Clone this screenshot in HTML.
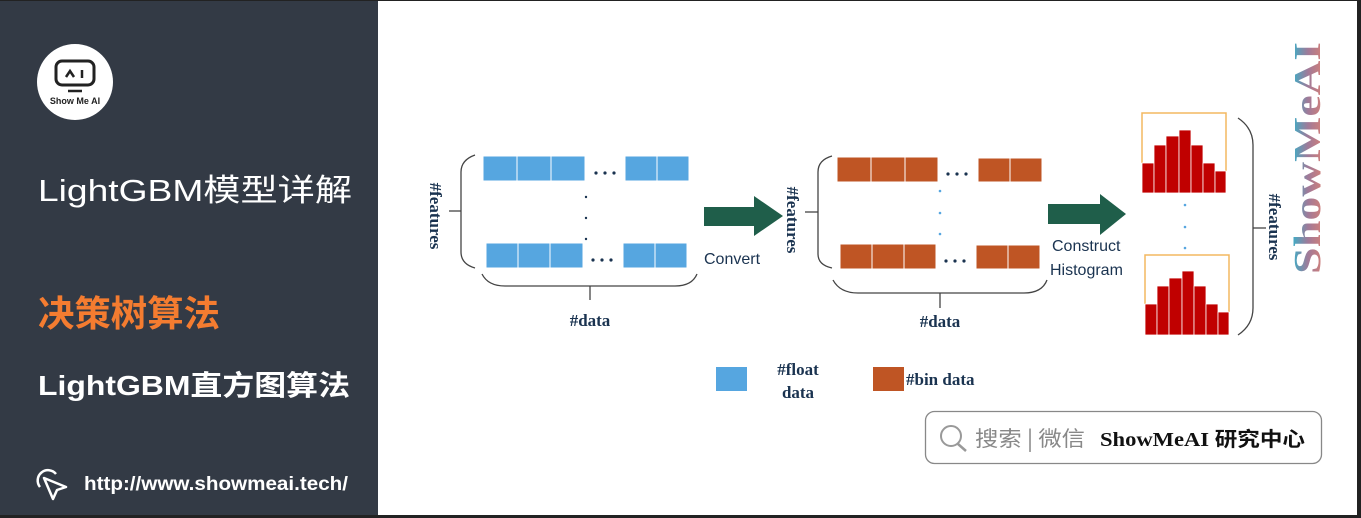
<!DOCTYPE html>
<html><head><meta charset="utf-8"><style>
body{margin:0;width:1361px;height:518px;overflow:hidden;background:#fff;font-family:"Liberation Sans","Noto Sans CJK SC",sans-serif;}
</style></head><body>
<svg width="1361" height="518" xmlns="http://www.w3.org/2000/svg" style="position:absolute;left:0;top:0">
<rect x="0" y="0" width="1361" height="518" fill="#fff"/>
<rect x="0" y="0" width="378" height="518" fill="#333a45"/>
<rect x="1357" y="0" width="4" height="518" fill="#222"/>
<rect x="0" y="515" width="1361" height="3" fill="#222"/>
<rect x="0" y="0" width="1361" height="1" fill="#222"/>
<!-- logo -->
<circle cx="75" cy="82" r="38" fill="#fff"/>
<rect x="56" y="61" width="38" height="24" rx="6" fill="none" stroke="#222" stroke-width="3"/>
<path d="M66 77 L70 71 L74 77" fill="none" stroke="#222" stroke-width="2.5"/>
<line x1="82" y1="70" x2="82" y2="78" stroke="#222" stroke-width="2.5"/>
<line x1="68" y1="91" x2="82" y2="91" stroke="#222" stroke-width="2.5"/>
<text x="75" y="104" font-size="9" font-weight="bold" text-anchor="middle" fill="#222">Show Me AI</text>
<text x="38" y="201" font-size="31" fill="#fff" textLength="314" lengthAdjust="spacingAndGlyphs" font-family="Liberation Sans,Noto Sans CJK SC,sans-serif">LightGBM模型详解</text>
<text x="38" y="326" font-size="36" font-weight="bold" fill="#f47c30" textLength="182" lengthAdjust="spacingAndGlyphs" font-family="Noto Sans CJK SC,sans-serif">决策树算法</text>
<text x="38" y="395" font-size="28" font-weight="bold" fill="#fff" textLength="312" lengthAdjust="spacingAndGlyphs" font-family="Liberation Sans,Noto Sans CJK SC,sans-serif">LightGBM直方图算法</text>
<path d="M44 478 L66 487 L57 490 L53 499 Z" fill="none" stroke="#fff" stroke-width="2.5" stroke-linejoin="round"/>
<path d="M40 487 A10 10 0 1 1 56 474" fill="none" stroke="#fff" stroke-width="2.5"/>
<text x="84" y="490" font-size="19" font-weight="bold" fill="#fff" textLength="264" lengthAdjust="spacingAndGlyphs">http://www.showmeai.tech/</text>

<!-- block 1 -->
<g fill="#56a6e0" stroke="#fff" stroke-width="1">
<rect x="483" y="156" width="34" height="25"/><rect x="517" y="156" width="34" height="25"/><rect x="551" y="156" width="34" height="25"/>
<rect x="625" y="156" width="32" height="25"/><rect x="657" y="156" width="32" height="25"/>
<rect x="486" y="243" width="32" height="25"/><rect x="518" y="243" width="32" height="25"/><rect x="550" y="243" width="33" height="25"/>
<rect x="623" y="243" width="32" height="25"/><rect x="655" y="243" width="32" height="25"/>
</g>
<g fill="#1a3350">
<circle cx="596" cy="173" r="1.6"/><circle cx="605" cy="173" r="1.6"/><circle cx="614" cy="173" r="1.6"/>
<circle cx="593" cy="260" r="1.6"/><circle cx="602" cy="260" r="1.6"/><circle cx="611" cy="260" r="1.6"/>
<circle cx="948" cy="174" r="1.6"/><circle cx="957" cy="174" r="1.6"/><circle cx="966" cy="174" r="1.6"/>
<circle cx="946" cy="261" r="1.6"/><circle cx="955" cy="261" r="1.6"/><circle cx="964" cy="261" r="1.6"/>
<circle cx="586" cy="197" r="1.2"/><circle cx="586" cy="218" r="1.2"/><circle cx="586" cy="239" r="1.2"/></g>
<g fill="none" stroke="#444" stroke-width="1.3">
<path d="M475 155 Q461 160 461 172 L461 252 Q461 264 475 268"/>
<line x1="449" y1="211" x2="461" y2="211"/>
<path d="M482 274 Q488 286 505 286 L675 286 Q692 286 697 274"/>
<line x1="590" y1="286" x2="590" y2="300"/>
<path d="M832 156 Q818 160 818 172 L818 254 Q818 265 832 268"/>
<line x1="805" y1="212" x2="818" y2="212"/>
<path d="M833 280 Q840 293 858 293 L1024 293 Q1042 293 1047 280"/>
<line x1="940" y1="293" x2="940" y2="308"/>
<path d="M1238 118 Q1253 128 1253 145 L1253 308 Q1253 325 1238 335"/>
<line x1="1253" y1="228" x2="1266" y2="228"/>
</g>
<g font-family="Liberation Serif,serif" font-weight="bold" font-size="17" fill="#1a3350">
<text transform="translate(430,216) rotate(90)" text-anchor="middle">#features</text>
<text transform="translate(787,220) rotate(90)" text-anchor="middle">#features</text>
<text transform="translate(1269,227) rotate(90)" text-anchor="middle">#features</text>
<text x="590" y="326" text-anchor="middle">#data</text>
<text x="940" y="327" text-anchor="middle">#data</text>
<text x="798" y="375" text-anchor="middle">#float</text>
<text x="798" y="398" text-anchor="middle">data</text>
<text x="906" y="385">#bin data</text>
</g>
<!-- arrows -->
<path d="M704 207 L754 207 L754 196 L783 216 L754 236 L754 226 L704 226 Z" fill="#1f5e4a"/>
<path d="M1048 204 L1100 204 L1100 194 L1126 214 L1100 235 L1100 224 L1048 224 Z" fill="#1f5e4a"/>
<g font-size="16" fill="#1a3350" font-family="Liberation Sans Narrow,Liberation Sans,sans-serif">
<text x="704" y="264">Convert</text>
<text x="1052" y="251">Construct</text>
<text x="1050" y="275">Histogram</text>
</g>
<!-- block 2 -->
<g fill="#bf5524" stroke="#fff" stroke-width="1">
<rect x="837" y="157" width="34" height="25"/><rect x="871" y="157" width="34" height="25"/><rect x="905" y="157" width="33" height="25"/>
<rect x="978" y="158" width="32" height="24"/><rect x="1010" y="158" width="32" height="24"/>
<rect x="840" y="244" width="32" height="25"/><rect x="872" y="244" width="32" height="25"/><rect x="904" y="244" width="32" height="25"/>
<rect x="976" y="245" width="32" height="24"/><rect x="1008" y="245" width="32" height="24"/>
</g>
<g fill="#56a6e0"><circle cx="940" cy="191" r="1.3"/><circle cx="940" cy="213" r="1.3"/><circle cx="940" cy="234" r="1.3"/>
<circle cx="1185" cy="205" r="1.3"/><circle cx="1185" cy="227" r="1.3"/><circle cx="1185" cy="248" r="1.3"/></g>
<!-- histograms -->
<path d="M1142 163 L1142 113 L1226 113 L1226 171" fill="none" stroke="#f4b860" stroke-width="1.5"/>
<g fill="#c00000" stroke="#fff" stroke-width="0.8">
<rect x="1142" y="163" width="12" height="30"/><rect x="1154" y="145" width="12" height="48"/><rect x="1166" y="136" width="13" height="57"/><rect x="1179" y="130" width="12" height="63"/><rect x="1191" y="145" width="12" height="48"/><rect x="1203" y="163" width="12" height="30"/><rect x="1215" y="171" width="11" height="22"/>
</g>
<path d="M1145 304 L1145 255 L1229 255 L1229 312" fill="none" stroke="#f4b860" stroke-width="1.5"/>
<g fill="#c00000" stroke="#fff" stroke-width="0.8">
<rect x="1145" y="304" width="12" height="31"/><rect x="1157" y="286" width="12" height="49"/><rect x="1169" y="278" width="13" height="57"/><rect x="1182" y="271" width="12" height="64"/><rect x="1194" y="286" width="12" height="49"/><rect x="1206" y="304" width="12" height="31"/><rect x="1218" y="312" width="11" height="23"/>
</g>
<!-- watermark -->
<defs><linearGradient id="wg" x1="0" y1="1" x2="0" y2="0"><stop offset="0" stop-color="#e8826a"/><stop offset="0.5" stop-color="#a07a99"/><stop offset="1" stop-color="#1bbfd6"/></linearGradient></defs>
<text transform="translate(1320,158) rotate(-90)" text-anchor="middle" font-family="Liberation Serif,serif" font-weight="bold" font-size="38" fill="url(#wg)" textLength="232" lengthAdjust="spacingAndGlyphs">ShowMeAI</text>
<!-- legend -->
<rect x="716" y="367" width="31" height="24" fill="#56a6e0"/>
<rect x="873" y="367" width="31" height="24" fill="#bf5524"/>
<!-- search box -->
<rect x="925.5" y="411.5" width="396" height="52" rx="9" fill="#fff" stroke="#888" stroke-width="1.3"/>
<circle cx="951" cy="436" r="10" fill="none" stroke="#999" stroke-width="2"/>
<line x1="958" y1="444" x2="966" y2="451" stroke="#999" stroke-width="2.5"/>
<text x="975" y="446" font-size="21" fill="#888" textLength="110" lengthAdjust="spacingAndGlyphs" font-family="Noto Sans CJK SC,sans-serif">搜索 | 微信</text>
<text x="1100" y="446" font-size="20" font-weight="bold" fill="#111" font-family="Liberation Serif,Noto Sans CJK SC,serif" textLength="205" lengthAdjust="spacingAndGlyphs">ShowMeAI <tspan font-family="Noto Sans CJK SC,sans-serif">研究中心</tspan></text>
</svg>
</body></html>
